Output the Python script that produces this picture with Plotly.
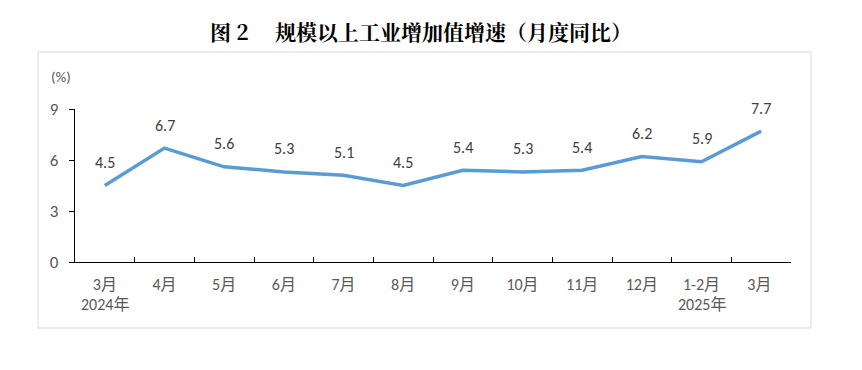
import plotly.graph_objects as go

months = ["3月", "4月", "5月", "6月", "7月", "8月", "9月", "10月", "11月", "12月", "1-2月", "3月 "]
values = [4.5, 6.7, 5.6, 5.3, 5.1, 4.5, 5.4, 5.3, 5.4, 6.2, 5.9, 7.7]
years = {"3月": "2024年", "1-2月": "2025年"}
yticks = [0, 3, 6, 9]

W, H = 862, 370
OFF = 8  # page body margin
L, R, T, B = 75, 791, 109, 262
pw, ph = R - L, B - T

def px(x):
    return (x - L) / pw

def py(y):
    return (B - y) / ph

font = "Carlito, Calibri, 'Open Sans', 'Noto Sans CJK SC', sans-serif"

fig = go.Figure()
fig.add_trace(go.Scatter(
    x=months, y=values, mode="lines",
    line=dict(color="#5B9BD5", width=3.5),
    hoverinfo="skip", showlegend=False,
))

ann = []
for m, v in zip(months, values):
    ann.append(dict(x=m, y=v, xref="x", yref="y", text=f"{v:.1f}", showarrow=False,
                    yshift=23, font=dict(size=16, color="#404040", family=font)))
for m, yr in years.items():
    ann.append(dict(x=m, y=py(304), xref="x", yref="paper", text=yr, showarrow=False,
                    xanchor="center", yanchor="middle",
                    font=dict(size=16, color="#595959", family=font)))
ann.append(dict(x=px(61), y=py(77), xref="paper", yref="paper", text="(%)", showarrow=False,
                xanchor="center", yanchor="middle",
                font=dict(size=15, color="#595959", family=font)))
ann.append(dict(x=px(421), y=py(31), xref="paper", yref="paper",
                text="<b>图 2　 规模以上工业增加值增速（月度同比）</b>", showarrow=False,
                xanchor="center", yanchor="middle",
                font=dict(size=21, color="#000000", family="'Noto Serif CJK SC', 'Noto Sans CJK SC', serif")))

fig.update_layout(
    width=W - OFF, height=H - OFF,
    margin=dict(l=L - OFF, r=W - R, t=T - OFF, b=H - B),
    paper_bgcolor="white", plot_bgcolor="white",
    annotations=ann,
    shapes=[dict(type="rect", xref="paper", yref="paper",
                 x0=px(38), x1=px(811), y0=py(328), y1=py(52),
                 line=dict(color="#D9D9D9", width=1), layer="below")],
    xaxis=dict(
        type="category", range=[-0.5, len(months) - 0.5],
        showline=True, linecolor="#000000", linewidth=1.3,
        ticks="inside", tickson="boundaries", ticklen=5, tickcolor="#000000", tickwidth=1,
        showgrid=False, zeroline=False, ticklabelstandoff=8,
        tickfont=dict(size=16, color="#595959", family=font),
    ),
    yaxis=dict(
        range=[0, 9], tickvals=yticks, ticktext=[str(t) for t in yticks],
        showline=True, linecolor="#000000", linewidth=1.3,
        ticks="outside", ticklen=5, tickcolor="#000000",
        showgrid=False, zeroline=False, ticklabelstandoff=7,
        tickfont=dict(size=17, color="#595959", family=font),
    ),
)

fig.write_html("out.html")
